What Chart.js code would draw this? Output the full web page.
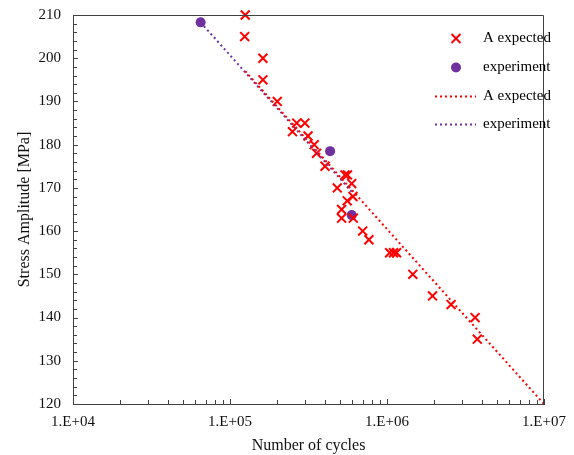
<!DOCTYPE html>
<html lang="en">
<head>
  <meta charset="UTF-8">
  <title>S-N chart</title>
  <style>
    html, body { margin: 0; padding: 0; background: #fff; }
  </style>
</head>
<body>
  <div>
    <canvas id="myChart" width="574" height="455"></canvas>
  </div>

  <script src="https://cdn.jsdelivr.net/npm/chart.js"></script>

  <script>
    // A expected (red crosses)
    const aCycles = [1.25e5, 1.24e5, 1.62e5, 1.62e5, 2.0e5, 2.66e5, 3.0e5, 2.5e5, 3.14e5, 3.44e5,
                     3.56e5, 4.03e5, 5.4e5, 5.6e5, 5.96e5, 4.82e5, 6.07e5, 5.58e5, 5.14e5, 5.14e5,
                     6.1e5, 7.0e5, 7.67e5, 1.04e6, 1.1e6, 1.15e6, 1.46e6, 1.95e6, 2.56e6, 3.64e6, 3.76e6]
    const aStress = [210, 205, 200, 195, 190, 185, 185, 183, 182, 180,
                     178, 175, 173, 173, 171, 170, 168, 167, 165, 163,
                     163, 160, 158, 155, 155, 155, 150, 145, 143, 140, 135]

    // experiment (purple dots)
    const expCycles = [6.5e4, 4.34e5, 5.96e5]
    const expStress = [208.3, 178.5, 163.7]

    // trend lines
    const aFitCycles = [1.25e5, 1.0e7]
    const aFitStress = [197, 120]
    const expFitCycles = [6.5e4, 6.0e5]
    const expFitStress = [208.3, 169]

    const xTicks = [1e4, 1e5, 1e6, 1e7]
    const yTicks = [120, 130, 140, 150, 160, 170, 180, 190, 200, 210]

    const legendLabels = ['A expected', 'experiment', 'A expected', 'experiment']

    const RED = '#ff0000'
    const PURPLE = '#7030a0'
    const FONT = 'Liberation Serif'

    function toPoints (xs, ys) {
      let pts = []
      for (let i = 0; i < xs.length; i++) {
        pts.push({ x: xs[i], y: ys[i] })
      }
      return pts
    }

    // frame on top/right plus inward minor ticks on the bottom and left axes
    const innerTicks = {
      id: 'innerTicks',
      afterDraw (chart) {
        const ctx = chart.ctx
        const x = chart.scales.x
        const y = chart.scales.y
        const area = chart.chartArea
        ctx.save()
        ctx.strokeStyle = '#404040'
        ctx.lineWidth = 1
        ctx.beginPath()
        const t = Math.round(area.top) + 0.5
        const r = Math.round(area.right) - 0.5
        ctx.moveTo(area.left, t)
        ctx.lineTo(r, t)
        ctx.lineTo(r, area.bottom)
        for (let e = 4; e < 7; e++) {
          for (let m = 1; m <= 10; m++) {
            const px = Math.round(x.getPixelForValue(m * Math.pow(10, e))) + 0.5
            const len = (m === 1 || m === 10) ? 5 : 4
            ctx.moveTo(px, area.bottom)
            ctx.lineTo(px, area.bottom - len)
          }
        }
        for (let v = 120; v <= 210; v += 2) {
          const py = Math.round(y.getPixelForValue(v)) + 0.5
          const len = (v % 10 === 0) ? 5 : 4
          ctx.moveTo(area.left, py)
          ctx.lineTo(area.left + len, py)
        }
        ctx.stroke()
        ctx.restore()
      }
    }

    // legend drawn inside the plot, top right
    const innerLegend = {
      id: 'innerLegend',
      afterDraw (chart) {
        const ctx = chart.ctx
        const area = chart.chartArea
        const mx = area.right - 88
        const tx = area.right - 61
        const rows = [area.top + 23.5, area.top + 52.5, area.top + 81.5, area.top + 109.5]
        ctx.save()
        // red cross
        ctx.strokeStyle = RED
        ctx.lineWidth = 2
        ctx.beginPath()
        ctx.moveTo(mx - 4.5, rows[0] - 4.5); ctx.lineTo(mx + 4.5, rows[0] + 4.5)
        ctx.moveTo(mx + 4.5, rows[0] - 4.5); ctx.lineTo(mx - 4.5, rows[0] + 4.5)
        ctx.stroke()
        // purple dot
        ctx.fillStyle = PURPLE
        ctx.beginPath()
        ctx.arc(mx, rows[1], 5, 0, Math.PI * 2)
        ctx.fill()
        // dotted lines
        ctx.lineWidth = 2
        ctx.setLineDash([2, 3])
        ctx.strokeStyle = RED
        ctx.beginPath(); ctx.moveTo(mx - 21, rows[2]); ctx.lineTo(mx + 20, rows[2]); ctx.stroke()
        ctx.strokeStyle = PURPLE
        ctx.beginPath(); ctx.moveTo(mx - 21, rows[3]); ctx.lineTo(mx + 20, rows[3]); ctx.stroke()
        ctx.setLineDash([])
        // texts
        ctx.fillStyle = '#000'
        ctx.font = '15px "' + FONT + '"'
        ctx.textBaseline = 'middle'
        for (let i = 0; i < legendLabels.length; i++) {
          ctx.fillText(legendLabels[i], tx, rows[i])
        }
        ctx.restore()
      }
    }

    const data = {
      datasets: [
        {
          label: 'A expected fit',
          data: toPoints(aFitCycles, aFitStress),
          showLine: true,
          borderColor: RED,
          borderWidth: 2,
          borderDash: [2, 3],
          pointRadius: 0,
          fill: false
        },
        {
          label: 'experiment fit',
          data: toPoints(expFitCycles, expFitStress),
          showLine: true,
          borderColor: PURPLE,
          borderWidth: 2,
          borderDash: [2, 3],
          pointRadius: 0,
          fill: false
        },
        {
          label: 'A expected',
          data: toPoints(aCycles, aStress),
          pointStyle: 'crossRot',
          pointRadius: 6.3,
          borderColor: RED,
          borderWidth: 2,
          backgroundColor: RED
        },
        {
          label: 'experiment',
          data: toPoints(expCycles, expStress),
          pointStyle: 'circle',
          pointRadius: 5,
          borderWidth: 0,
          backgroundColor: PURPLE,
          borderColor: PURPLE
        }
      ]
    }

    const config = {
      type: 'scatter',
      data: data,
      options: {
        responsive: false,
        animation: false,
        maintainAspectRatio: false,
        clip: false,
        layout: { padding: { top: 15, right: 30, left: 0, bottom: 0 }, autoPadding: false },
        plugins: {
          legend: { display: false },
          tooltip: { enabled: false }
        },
        scales: {
          x: {
            type: 'logarithmic',
            position: 'bottom',
            min: 1e4,
            max: 1e7,
            afterBuildTicks: (scale) => { scale.ticks = xTicks.map(v => ({ value: v })) },
            afterFit: (scale) => {
              scale.height = 51
              scale.paddingLeft = 0
              scale.paddingRight = 0
            },
            grid: { display: false, drawTicks: false },
            border: { display: true, color: '#404040', width: 1 },
            ticks: {
              padding: 9,
              color: '#111',
              font: { family: FONT, size: 15 },
              maxRotation: 0,
              callback: (v) => '1.E+0' + Math.round(Math.log10(v))
            },
            title: {
              display: true,
              text: 'Number of cycles',
              color: '#111',
              font: { family: FONT, size: 16 },
              padding: { top: 3, bottom: 0 }
            }
          },
          y: {
            type: 'linear',
            position: 'left',
            min: 120,
            max: 210,
            afterBuildTicks: (scale) => { scale.ticks = yTicks.map(v => ({ value: v })) },
            afterFit: (scale) => {
              scale.width = 73
              scale.paddingTop = 0
              scale.paddingBottom = 0
            },
            grid: { display: false, drawTicks: false },
            border: { display: true, color: '#404040', width: 1 },
            ticks: {
              padding: 12,
              color: '#111',
              font: { family: FONT, size: 15 }
            },
            title: {
              display: true,
              text: 'Stress Amplitude [MPa]',
              color: '#111',
              font: { family: FONT, size: 16 },
              padding: { top: 15, bottom: 0 }
            }
          }
        }
      },
      plugins: [innerTicks, innerLegend]
    }

    const myChart = new Chart(
      document.getElementById('myChart'),
      config
    )
  </script>
</body>
</html>
